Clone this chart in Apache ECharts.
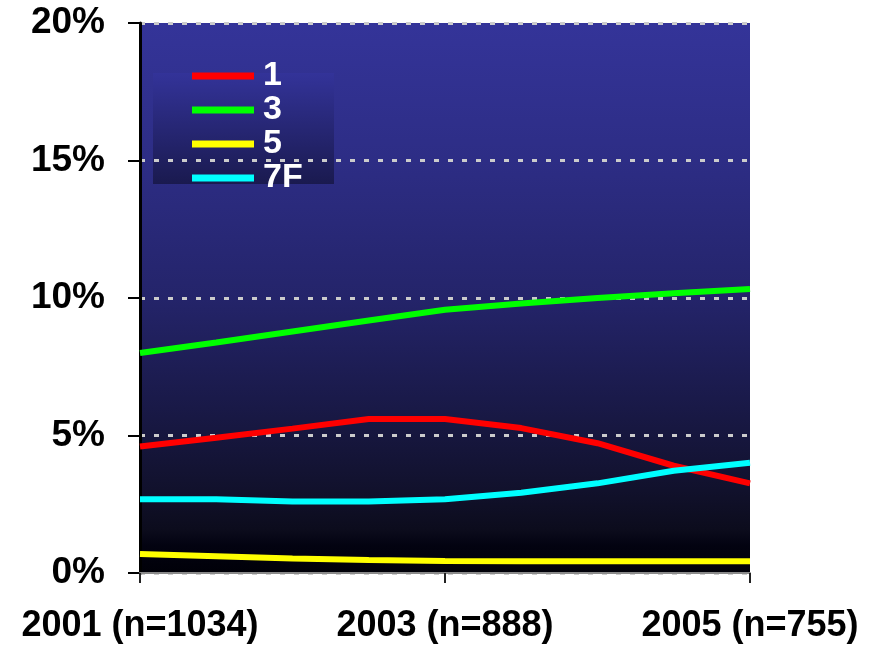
<!DOCTYPE html>
<html>
<head>
<meta charset="utf-8">
<title>Share by group, 2001–2005</title>
<script src="https://cdn.jsdelivr.net/npm/echarts@6/dist/echarts.min.js"></script>
<style>
  html, body { margin: 0; padding: 0; background: #ffffff; }
  #chart { width: 879px; height: 648px; }
</style>
</head>
<body>
<div id="chart"></div>
<script>
// Half-year sampling points; only survey years carry a label
const periods = ['2001', '2001.5', '2002', '2002.5', '2003', '2003.5', '2004', '2004.5', '2005'];
const surveyLabels = { '2001': '2001 (n=1034)', '2003': '2003 (n=888)', '2005': '2005 (n=755)' };

// Percent values per group
const group1  = [4.6, 4.92, 5.25, 5.6, 5.6, 5.27, 4.72, 3.9, 3.26];
const group3  = [8.0, 8.38, 8.78, 9.18, 9.57, 9.8, 10.0, 10.17, 10.33];
const group5  = [0.69, 0.61, 0.53, 0.47, 0.44, 0.43, 0.43, 0.43, 0.43];
const group7F = [2.68, 2.68, 2.6, 2.6, 2.68, 2.92, 3.26, 3.72, 4.01];

const seriesNames = ['1', '3', '5', '7F'];
const seriesColors = ['#ff0000', '#00ff00', '#ffff00', '#00ffff'];
const seriesData = [group1, group3, group5, group7F];

const yTicks = [0, 5, 10, 15, 20];

const chart = echarts.init(document.getElementById('chart'), null, { renderer: 'canvas' });

const isSurveyYear = (idx) => idx % 4 === 0;

const option = {
  backgroundColor: '#ffffff',
  animation: false,
  grid: {
    left: 140, right: 129, top: 23, bottom: 75,
    show: true,
    borderWidth: 0,
    backgroundColor: new echarts.graphic.LinearGradient(0, 0, 0, 1, [
      { offset: 0.00, color: '#343499' },
      { offset: 0.25, color: '#2d2d85' },
      { offset: 0.50, color: '#24246a' },
      { offset: 0.70, color: '#191947' },
      { offset: 0.85, color: '#11112c' },
      { offset: 0.92, color: '#0c0c1d' },
      { offset: 0.95, color: '#030311' },
      { offset: 1.00, color: '#000008' }
    ])
  },
  graphic: [{
    type: 'rect',
    z: 1,
    shape: { x: 153, y: 73, width: 181, height: 111 },
    style: {
      fill: new echarts.graphic.LinearGradient(0, 0, 0, 1, [
        { offset: 0, color: '#333399' },
        { offset: 1, color: '#1a1a4f' }
      ])
    }
  }],
  legend: {
    orient: 'vertical',
    left: 192,
    top: 59,
    z: 5,
    icon: 'rect',
    itemWidth: 62,
    itemHeight: 7,
    itemGap: 0,
    padding: 0,
    data: seriesNames,
    textStyle: {
      color: '#ffffff',
      fontFamily: 'Liberation Sans, Arial, sans-serif',
      fontWeight: 'bold',
      fontSize: 34,
      lineHeight: 30,
      padding: [0, 0, 0, 4]
    }
  },
  xAxis: {
    type: 'category',
    data: periods,
    boundaryGap: false,
    z: 2,
    axisLine: { show: true, lineStyle: { color: '#8a8a8a', width: 2 } },
    axisTick: {
      show: true,
      interval: isSurveyYear,
      length: 10,
      lineStyle: { color: '#222222', width: 2 }
    },
    axisLabel: {
      interval: isSurveyYear,
      margin: 35,
      color: '#000000',
      fontFamily: 'Liberation Sans, Arial, sans-serif',
      fontWeight: 'bold',
      fontSize: 36,
      formatter: (v) => surveyLabels[v] || ''
    },
    splitLine: { show: false }
  },
  yAxis: {
    type: 'value',
    min: yTicks[0],
    max: yTicks[yTicks.length - 1],
    interval: yTicks[1] - yTicks[0],
    z: 1,
    axisLine: { show: true, lineStyle: { color: '#000000', width: 3 } },
    axisTick: { show: true, length: 12, lineStyle: { color: '#000000', width: 2 } },
    axisLabel: {
      margin: 35,
      color: '#000000',
      fontFamily: 'Liberation Sans, Arial, sans-serif',
      fontWeight: 'bold',
      fontSize: 37,
      formatter: '{value}%'
    },
    splitLine: {
      show: true,
      lineStyle: { color: '#cccccc', width: 3, type: [5, 9] }
    }
  },
  series: seriesNames.map((name, i) => ({
    name: name,
    type: 'line',
    data: seriesData[i],
    showSymbol: false,
    symbol: 'none',
    smooth: false,
    z: 3,
    color: seriesColors[i],
    lineStyle: { color: seriesColors[i], width: 6 }
  }))
};

chart.setOption(option);
</script>
</body>
</html>
